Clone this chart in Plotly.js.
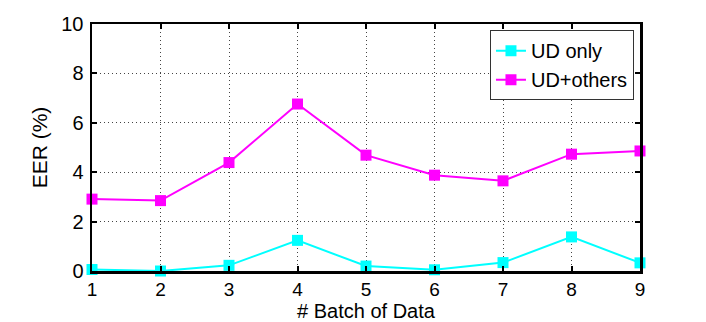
<!DOCTYPE html>
<html><head><meta charset="utf-8">
<script src="https://cdn.plot.ly/plotly-3.0.1.min.js"></script>
<style>html,body{margin:0;padding:0;background:#fff}</style>
</head><body><div id="chart" style="width:706px;height:322px"></div>
<script>
const batches = [1, 2, 3, 4, 5, 6, 7, 8, 9];
const udOnly = [0.06, 0.0, 0.23, 1.24, 0.2, 0.05, 0.34, 1.38, 0.33];
const udOthers = [2.91, 2.85, 4.39, 6.76, 4.69, 3.88, 3.65, 4.73, 4.86];
const seriesNames = ['UD only', 'UD+others'];
const xTickVals = [1, 2, 3, 4, 5, 6, 7, 8, 9];
const yTickVals = [0, 2, 4, 6, 8, 10];

const fontFam = 'Liberation Sans, Arial, sans-serif';
const traces = [
  {x: batches, y: udOnly, name: seriesNames[0], mode: 'lines+markers', type: 'scatter',
   line: {color: '#00FFFF', width: 2}, marker: {symbol: 'square', size: 11, color: '#00FFFF'}, cliponaxis: false},
  {x: batches, y: udOthers, name: seriesNames[1], mode: 'lines+markers', type: 'scatter',
   line: {color: '#FF00FF', width: 2}, marker: {symbol: 'square', size: 11, color: '#FF00FF'}, cliponaxis: false}
];
const axisCommon = {
  showline: true, linecolor: '#000', linewidth: 2.5, mirror: 'ticks',
  ticks: 'inside', ticklen: 5, tickwidth: 2, tickcolor: '#000',
  showgrid: true, gridcolor: '#444', griddash: '1px,3px', gridwidth: 1,
  zeroline: false, tickfont: {family: fontFam, size: 20, color: '#000'}
};
const layout = {
  width: 706, height: 322,
  margin: {l: 92, r: 66, t: 24, b: 51},
  paper_bgcolor: '#fff', plot_bgcolor: '#fff',
  font: {family: fontFam, color: '#000'},
  xaxis: Object.assign({}, axisCommon, {range: [1, 9], tickvals: xTickVals, ticklabelstandoff: 0,
    tickfont: {family: fontFam, size: 19, color: '#000'},
    title: {text: '# Batch of Data', font: {family: fontFam, size: 20}, standoff: 3}}),
  yaxis: Object.assign({}, axisCommon, {range: [0, 10], tickvals: yTickVals, ticklabelstandoff: 2,
    title: {text: 'EER (%)', font: {family: fontFam, size: 21}, standoff: 8}}),
  legend: {x: 0.989, xanchor: 'right', y: 0.975, yanchor: 'top', bgcolor: '#fff',
    bordercolor: '#333', borderwidth: 1, font: {family: fontFam, size: 20}, tracegroupgap: 0,
    itemwidth: 30},
  showlegend: true
};
Plotly.newPlot('chart', traces, layout, {displayModeBar: false, staticPlot: true});
</script></body></html>
